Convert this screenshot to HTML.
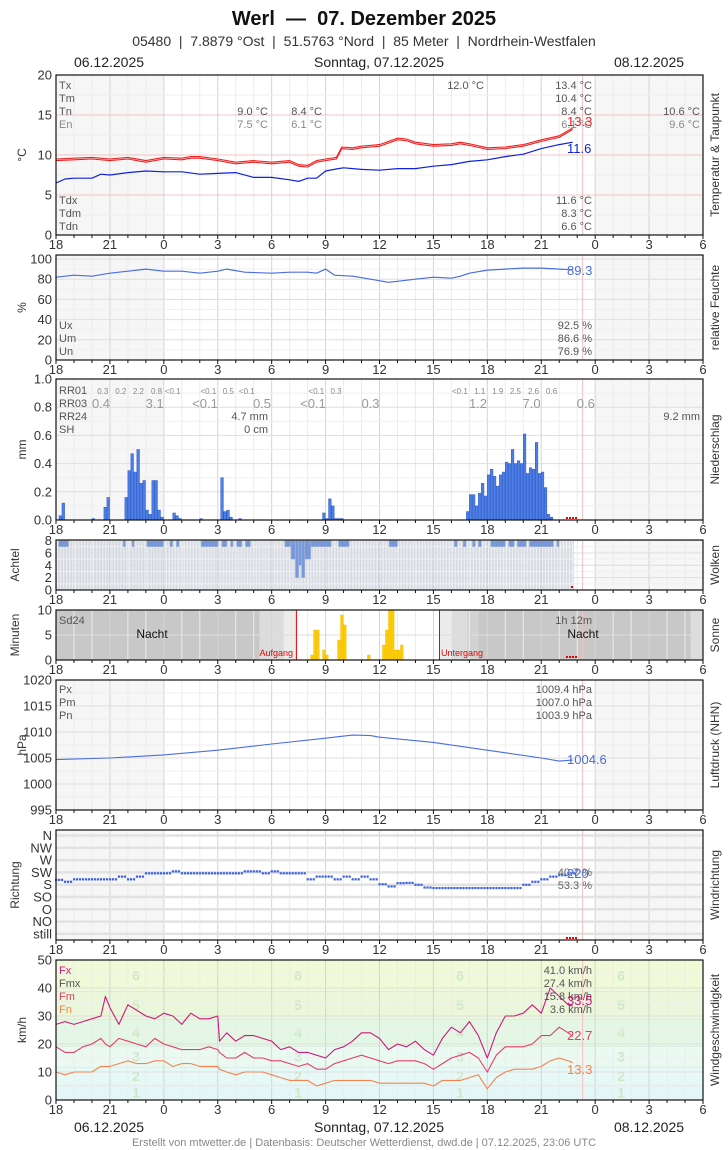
<!DOCTYPE html>
<html><head><meta charset="utf-8"><style>
html,body{margin:0;padding:0;background:#fff}
svg{display:block}
text{font-family:"Liberation Sans Narrow","Liberation Sans",sans-serif}
</style></head><body>
<svg id="c" width="728" height="1150" viewBox="0 0 728 1150" xmlns="http://www.w3.org/2000/svg"></svg>
<script>
// ---------- data ----------
const tempHours=[0,1,2,3,4,5,6,7,7.5,8,9,10,11,12,13,13.5,14,14.5,15,15.6,15.9,16.5,17,18,19,19.5,20,21,22,22.5,23,24,25,26,27,28,28.75];
const tempVals=[9.4,9.5,9.6,9.4,9.6,9.2,9.6,9.5,9.7,9.7,9.4,9.0,9.2,9.0,9.2,8.7,8.6,9.2,9.4,9.6,10.9,10.8,11.0,11.2,12.0,11.9,11.5,11.2,11.3,11.5,11.3,10.8,10.9,11.2,11.8,12.3,13.3];
const dewHours=[0,0.5,1,2,2.5,3,4,5,6,7,8,9,10,11,12,13,13.5,14,14.5,15,15.7,16,17,18,19,20,21,22,23,24,25,26,27,28,28.75];
const dewVals=[6.5,7.0,7.1,7.1,7.6,7.5,7.8,8.0,7.9,7.9,7.6,7.7,7.8,7.2,7.2,6.9,6.7,7.1,7.1,8.0,8.3,8.4,8.2,8.1,8.3,8.3,8.6,8.8,9.2,9.4,9.8,10.1,10.8,11.3,11.6];
const humHours=[0,1,2,3,4,5,6,7,8,9,9.5,10.5,12,13,14,14.5,15,15.5,16.5,17.5,18.5,19,20,21,22,22.5,23,24,25,26,27,28,28.75];
const humVals=[82,84,83,86,88,90,88,88,86,88,90,87,86,87,87,86,90,84,83,80,77,78,80,82,81,83,86,89,90,91,91,90,89.3];
const rainBins=[1,2,12,16,17,23,24,25,26,27,28,29,30,31,32,33,34,35,39,40,41,48,55,56,57,58,61,89,90,91,92,93,94,95,137,138,139,140,141,142,143,144,145,146,147,148,149,150,151,152,153,154,155,156,157,158,159,160,161,162,163,164,165];
const rainVals=[0.03,0.12,0.01,0.09,0.16,0.16,0.35,0.47,0.34,0.50,0.26,0.28,0.07,0.04,0.28,0.28,0.07,0.02,0.05,0.03,0.01,0.01,0.30,0.06,0.07,0.02,0.01,0.05,0.01,0.15,0.10,0.01,0.01,0.01,0.06,0.18,0.18,0.10,0.19,0.26,0.17,0.32,0.36,0.31,0.24,0.32,0.34,0.41,0.40,0.50,0.40,0.42,0.40,0.61,0.33,0.37,0.36,0.55,0.33,0.34,0.23,0.04,0.02];
const cloudStart=[0.15,3.74,4.23,5.05,6.34,6.70,8.07,9.23,9.72,10.05,10.54,12.73,13.07,13.32,13.51,13.66,13.84,14.18,15.72,18.53,22.16,22.65,23.17,23.5,24.18,25.18,25.67,26.34,27.86];
const cloudEnd=[0.70,3.87,4.36,5.98,6.49,6.86,9.02,9.51,9.85,10.34,10.82,13.07,13.32,13.51,13.66,13.84,14.18,15.31,16.31,19.0,22.32,22.81,23.32,23.66,25.0,25.49,26.16,27.68,27.99];
const cloudLevel=[7,7,7,7,7,7,7,7,7,7,7,7,5,2,4,2,5,7,7,7,7,7,7,7,7,7,7,7,7];
const sunBins=[85,86,87,89,90,94,95,96,104,109,110,111,112,113,114,115];
const sunVals=[1,6,6,2,1,4,9,7,1,3,6,10,10,2,2,3];
const pressHours=[0,3,6,9,12,15,16.5,17.5,18,21,24,27,28,28.75];
const pressVals=[1004.7,1005.0,1005.6,1006.5,1007.7,1008.8,1009.4,1009.3,1009.0,1008.0,1006.5,1005.0,1004.4,1004.6];
const dirHours=[0,0.5,1,1.5,2,2.5,3,3.5,4,4.5,5,5.5,6,6.5,7,7.5,8,8.5,9,9.5,10,10.5,11,11.5,12,12.5,13,13.5,14,14.5,15,15.5,16,16.5,17,17.5,18,18.5,19,19.5,20,20.5,21,21.5,22,22.5,23,23.5,24,24.5,25,25.5,26,26.5,27,27.5,28,28.5];
const dirVals=[198,191,200,200,200,200,200,210,200,210,222,222,222,229,222,222,222,222,222,222,222,229,229,222,229,222,222,222,200,210,210,200,210,200,210,200,182,174,186,187,180,170,168,168,168,168,168,168,168,168,168,168,180,191,200,210,215,222];
const dirLabels=["still","NO","O","SO","S","SW","W","NW","N"];
const windHours=[0,0.5,1,1.5,2,2.5,2.75,3,3.5,4,4.5,5,5.5,6,6.5,7,7.5,8,8.5,9,9.1,9.5,10,10.5,11,11.5,12,12.5,13,13.5,14,14.5,15,15.5,16,16.5,17,17.5,18,18.5,19,19.5,20,20.5,21,21.5,22,22.5,23,23.5,24,24.5,25,25.5,26,26.5,27,27.5,28,28.5,28.75];
const fxVals=[27,28,27,28,29,30,37,33,27,34,32,30,29,31,30,27,31,29,29,30,21,24,21,23,23,22,21,18,19,17,17,16,15,18,19,21,24,24,22,18,20,19,21,18,16,22,26,24,28,23,15,24,30,30,31,34,31,40,37,34,33.5];
const fmVals=[19,17,17,19,20,22,20,19,22,21,20,19,22,20,19,18,18,18,19,18,17,15,15,17,15,15,14,14,13,12,13,11,11,13,14,15,16,15,14,13,14,14,14,13,11,13,15,16,17,15,10,16,19,19,19,20,23,23,26,24,22.7];
const fnVals=[10,9,10,10,10,12,12,12,13,14,13,13,14,14,12,13,13,12,12,12,11,10,9,10,10,10,9,8,7,7,7,5,6,7,7,7,7,7,6,6,6,6,6,6,5,7,7,7,8,9,4,8,10,11,11,11,12,14,15,14,13.3];
const hourTickLabels=["18","21","0","3","6","9","12","15","18","21","0","3","6"];

// ---------- helpers ----------
const NS="http://www.w3.org/2000/svg";
const svg=document.getElementById('c');
function el(tag,attrs,parent){const e=document.createElementNS(NS,tag);for(const k in attrs)e.setAttribute(k,attrs[k]);(parent||svg).appendChild(e);return e;}
function txt(s,x,y,size,fill,anchor,parent,weight){const t=el('text',{x:x,y:y,'font-size':size,fill:fill,'text-anchor':anchor||'start','font-weight':weight||'normal'},parent);t.textContent=s;return t;}
const X0=56,X1=703,PH=(X1-X0)/36;
function xs(h){return X0+h*PH;}
function yScale(p,v){return p.bot-(v-p.min)/(p.max-p.min)*(p.bot-p.top);}

const panels={
 temp:{top:75,bot:235,min:0,max:20,ticks:[0,5,10,15,20],unit:"°C",right:"Temperatur & Taupunkt"},
 hum:{top:255,bot:360,min:0,max:104,ticks:[0,20,40,60,80,100],unit:"%",right:"relative Feuchte"},
 rain:{top:379,bot:520,min:0,max:1,ticks:[0,0.2,0.4,0.6,0.8,1.0],unit:"mm",right:"Niederschlag",fmt:1},
 cloud:{top:540,bot:590,min:0,max:8.1,ticks:[0,2,4,6,8],unit:"Achtel",right:"Wolken"},
 sun:{top:610,bot:660,min:0,max:10,ticks:[0,5,10],unit:"Minuten",right:"Sonne",nobg:1},
 press:{top:680,bot:810,min:995,max:1020,ticks:[995,1000,1005,1010,1015,1020],unit:"hPa",right:"Luftdruck (NHN)"},
 dir:{top:830,bot:940,min:-0.5,max:8.45,ticks:[0,1,2,3,4,5,6,7,8],unit:"Richtung",right:"Windrichtung",labels:dirLabels},
 wind:{top:960,bot:1100,min:0,max:50,ticks:[0,10,20,30,40,50],unit:"km/h",right:"Windgeschwindigkeit",nobg:1}
};

// header
const hdr=el('g',{});


let t=txt("Werl\u00a0 —\u00a0 07. Dezember 2025",364,25,20,"#111","middle",hdr,"bold");


t=txt("05480\u00a0 |\u00a0 7.8879 °Ost\u00a0 |\u00a0 51.5763 °Nord\u00a0 |\u00a0 85 Meter\u00a0 |\u00a0 Nordrhein-Westfalen",364,46,14,"#333","middle",hdr);


function dateRow(y,nm){
 const g=el('g',{});
 
 
 txt("06.12.2025",109,y,14,"#222","middle",g);
 txt("Sonntag, 07.12.2025",379,y,14,"#222","middle",g);
 txt("08.12.2025",649,y,14,"#222","middle",g);
}
dateRow(67,'top-date-row');
dateRow(1132,'bottom-date-row');
t=txt("Erstellt von mtwetter.de | Datenbasis: Deutscher Wetterdienst, dwd.de | 07.12.2025, 23:06 UTC",364,1146,11,"#888","middle");



function drawPanel(key){
 const p=panels[key];
 const g=el('g',{});
 
 
 p.g=g;
 if(!p.nobg){
  let r=el('rect',{x:xs(0),y:p.top,width:xs(6)-xs(0),height:p.bot-p.top,fill:'#f6f6f6'},g);
  
  
  r=el('rect',{x:xs(30),y:p.top,width:xs(36)-xs(30),height:p.bot-p.top,fill:'#f6f6f6'},g);
  
  
 }
 return g;
}
function drawGrid(key){
 const p=panels[key],g=p.g;
 const grid=el('g',{},g);
 
 
 for(let h=1;h<36;h++){
  el('line',{x1:xs(h),x2:xs(h),y1:p.top,y2:p.bot,stroke:h%3==0?'#d4d4d4':'#ececec','stroke-width':1},grid);
 }
 p.ticks.forEach((v,i)=>{
  const y=yScale(p,v);
  let col='#dedede';
  if(key==='temp'&&v>0&&v<20)col='#f2c4c4';
  if(key==='dir')col='#e2e2e2';
  el('line',{x1:X0,x2:X1,y1:y,y2:y,stroke:col,'stroke-width':key==='dir'?2.5:1},grid);
  if(i<p.ticks.length-1&&key!=='dir'&&key!=='sun'){
   const ym=yScale(p,(v+p.ticks[i+1])/2);
   el('line',{x1:X0,x2:X1,y1:ym,y2:ym,stroke:'#efefef','stroke-width':1},grid);
  }
 });
 el('line',{x1:xs(29.3),x2:xs(29.3),y1:p.top,y2:p.bot,stroke:'#f4c0c0','stroke-width':1},grid);
}
function drawAxes(key){
 const p=panels[key],g=p.g;
 const ax=el('g',{},g);
 
 
 el('rect',{x:X0,y:p.top,width:X1-X0,height:p.bot-p.top,fill:'none',stroke:'#111','stroke-width':1.2},ax);
 const yt=el('g',{},ax);
 
 
 p.ticks.forEach((v,i)=>{
  const s=p.labels?p.labels[i]:(p.fmt?v.toFixed(1):String(v));
  txt(s,52,yScale(p,v)+4.5,13,'#333','end',yt);
 });
 const xt=el('g',{},ax);
 
 
 for(let h=0;h<=36;h++){
  el('line',{x1:xs(h),x2:xs(h),y1:p.bot,y2:p.bot+(h%3==0?4:3),stroke:'#111','stroke-width':1},xt);
 }
 hourTickLabels.forEach((s,i)=>txt(s,xs(i*3),p.bot+14,13,'#333','middle',xt));
 let u=txt(p.unit,0,0,12,'#333','middle',ax);
 u.setAttribute('transform',`translate(${key==='dir'||key==='sun'||key==='cloud'?19:26},${(p.top+p.bot)/2}) rotate(-90)`);
 
 
 let r=txt(p.right,0,0,12,'#333','middle',ax);
 r.setAttribute('transform',`translate(719,${(p.top+p.bot)/2}) rotate(-90)`);
 
 
}
function line(key,hours,vals,color,w,dy,nm){
 const p=panels[key];
 const d=hours.map((h,i)=>(i?'L':'M')+xs(h).toFixed(1)+','+(yScale(p,vals[i])+(dy||0)).toFixed(1)).join('');
 const l=el('path',{d:d,fill:'none',stroke:color,'stroke-width':w,'stroke-linejoin':'round'},p.g);
 
 
 return l;
}
function legend(key,rows,nm){
 const g=el('g',{},panels[key].g);
 
 
 rows.forEach(r=>txt(r[0],r[1],r[2],r[3]||11,r[4]||'#555',r[5]||'start',g));
}
function redDots(key,y){
 const g=el('g',{},panels[key].g);
 
 
 for(let i=0;i<4;i++)el('rect',{x:566+i*3,y:y,width:2,height:2,fill:'#e00'},g);
}

// ---- Temperature ----
drawPanel('temp');drawGrid('temp');
line('temp',tempHours,tempVals,'#f02020',1.1,-0.8,'temperature-max-line');
line('temp',tempHours,tempVals,'#f02020',1.1,0.8,'temperature-min-line');
line('temp',dewHours,dewVals,'#1020e0',1.2,0,'dewpoint-line');
legend('temp',[["Tx",59,89],["Tm",59,102],["Tn",59,115],["En",59,128,11,'#888'],
 ["12.0 °C",484,89,11,'#555','end'],["13.4 °C",592,89,11,'#555','end'],["10.4 °C",592,102,11,'#555','end'],["8.4 °C",592,115,11,'#555','end'],["6.1 °C",592,128,11,'#888','end'],
 ["9.0 °C",268,115,11,'#555','end'],["7.5 °C",268,128,11,'#888','end'],["8.4 °C",322,115,11,'#555','end'],["6.1 °C",322,128,11,'#888','end'],
 ["10.6 °C",700,115,11,'#555','end'],["9.6 °C",700,128,11,'#888','end'],
 ["Tdx",59,204],["Tdm",59,217],["Tdn",59,230],["11.6 °C",592,204,11,'#555','end'],["8.3 °C",592,217,11,'#555','end'],["6.6 °C",592,230,11,'#555','end'],
 ["13.3",567,126,13,'#f02020'],["11.6",567,153,13,'#1020e0']],'temp-legend');
drawAxes('temp');

// ---- Humidity ----
drawPanel('hum');drawGrid('hum');
line('hum',humHours,humVals,'#4a6ee0',1.2,0,'humidity-line');
legend('hum',[["Ux",59,329],["Um",59,342],["Un",59,355],["92.5 %",592,329,11,'#555','end'],["86.6 %",592,342,11,'#555','end'],["76.9 %",592,355,11,'#555','end'],["89.3",567,275,13,'#4a6ee0']],'humidity-legend');
drawAxes('hum');

// ---- Rain ----
drawPanel('rain');drawGrid('rain');
{const p=panels.rain;const g=el('g',{},p.g);
 
 
 const bw=PH/6;
 rainBins.forEach((b,i)=>{const y=yScale(p,rainVals[i]);
  const r=el('rect',{x:xs(b/6),y:y,width:bw-0.4,height:p.bot-y,fill:'#4d7fe8',stroke:'#2a55c0','stroke-width':0.5},g);
  
  });}
legend('rain',[["RR01",59,394],["RR03",59,407],["RR24",59,420],["SH",59,433],
 ["0.3",102.8,394,8,'#888','middle'],["0.2",120.8,394,8,'#888','middle'],["2.2",138.4,394,8,'#888','middle'],["0.8",156.5,394,8,'#888','middle'],["<0.1",172.7,394,8,'#888','middle'],
 ["<0.1",208.4,394,8,'#888','middle'],["0.5",228.3,394,8,'#888','middle'],["<0.1",246.8,394,8,'#888','middle'],["<0.1",316.3,394,8,'#888','middle'],["0.3",336,394,8,'#888','middle'],
 ["<0.1",459.9,394,8,'#888','middle'],["1.1",479.8,394,8,'#888','middle'],["1.9",497.8,394,8,'#888','middle'],["2.5",515.4,394,8,'#888','middle'],["2.6",533.5,394,8,'#888','middle'],["0.6",551.6,394,8,'#888','middle'],
 ["0.4",101,408,13,'#999','middle'],["3.1",154.7,408,13,'#999','middle'],["<0.1",205,408,13,'#999','middle'],["0.5",262,408,13,'#999','middle'],["<0.1",313,408,13,'#999','middle'],["0.3",370.5,408,13,'#999','middle'],["1.2",478,408,13,'#999','middle'],["7.0",531.6,408,13,'#999','middle'],["0.6",585.8,408,13,'#999','middle'],
 ["4.7 mm",268,420,11,'#555','end'],["0 cm",268,433,11,'#555','end'],["9.2 mm",700,420,11,'#555','end']],'rain-legend');
redDots('rain',517);
drawAxes('rain');

// ---- Clouds ----
{const p=panels.cloud;const g=drawPanel('cloud');
 const gb=el('g',{},g);
 
 
 for(let k=0;k<173;k++){el('rect',{x:xs(k/6)+0.4,y:yScale(p,8),width:PH/6-1.2,height:p.bot-yScale(p,8),fill:'#eef0f4',stroke:'#b8c0cc','stroke-width':0.5},gb);}
 drawGrid('cloud');
 const g2=el('g',{},g);
 
 
 cloudStart.forEach((s,i)=>{const y0=yScale(p,8),y1=yScale(p,cloudLevel[i]);
  const r=el('rect',{x:xs(s),y:y0,width:xs(cloudEnd[i])-xs(s),height:y1-y0,fill:'#7898dc',stroke:'#b0bccc','stroke-width':0.5},g2);
  
  });
 el('rect',{x:571,y:586,width:2,height:2,fill:'#e00'},g);
 drawAxes('cloud');}

// ---- Sun ----
{const p=panels.sun;const g=drawPanel('sun');
 const bands=[[56,259.8,'#c8c8c8'],[259.8,283.9,'#dcdcdc'],[283.9,296.4,'#ececec'],[296.4,439.5,'#ffffff'],[439.5,450.6,'#ececec'],[450.6,466.8,'#dcdcdc'],[466.8,478.4,'#d2d2d2'],[478.4,690.5,'#c8c8c8'],[690.5,703,'#dcdcdc']];
 const bg=el('g',{},g);
 
 
 bands.forEach(b=>el('rect',{x:b[0],y:p.top,width:b[1]-b[0],height:p.bot-p.top,fill:b[2]},bg));
 drawGrid('sun');
 const sb=el('g',{},g);
 
 
 sunBins.forEach((b,i)=>{const y=yScale(p,sunVals[i]);
  const r=el('rect',{x:xs(b/6),y:y,width:PH/6-0.4,height:p.bot-y,fill:'#ffcc00',stroke:'#e8b800','stroke-width':0.4},sb);
  
  });
 let l=el('line',{x1:296.4,x2:296.4,y1:p.top,y2:p.bot,stroke:'#e00','stroke-width':1},g);
 
 
 l=el('line',{x1:439.5,x2:439.5,y1:p.top,y2:p.bot,stroke:'#e00','stroke-width':1},g);
 
 
 legend('sun',[["Sd24",59,624,11,'#555'],["Nacht",152,638,12,'#111','middle'],["Nacht",583,638,12,'#111','middle'],["1h 12m",592,624,11,'#555','end'],["Aufgang",293,656,9,'#e00','end'],["Untergang",441,656,9,'#e00']],'sun-legend');
 redDots('sun',656);
 drawAxes('sun');}

// ---- Pressure ----
drawPanel('press');drawGrid('press');
line('press',pressHours,pressVals,'#4a6ee0',1.1,0,'pressure-line');
legend('press',[["Px",59,693],["Pm",59,706],["Pn",59,719],["1009.4 hPa",592,693,11,'#555','end'],["1007.0 hPa",592,706,11,'#555','end'],["1003.9 hPa",592,719,11,'#555','end'],["1004.6",567,764,13,'#4a6ee0']],'pressure-legend');
drawAxes('press');

// ---- Direction ----
drawPanel('dir');drawGrid('dir');
{const p=panels.dir;const g=el('g',{},p.g);
 
 
 dirHours.forEach((h,i)=>{
  for(let k=0;k<3;k++){const c=el('rect',{x:xs(h+k/6)-1,y:yScale(p,dirVals[i]/45)-1,width:2.2,height:2.2,fill:'#3a5fe0'},g);
   
   }});}
legend('dir',[["40.7 %",592,876,11,'#666','end'],["53.3 %",592,889,11,'#666','end'],["220",567,878,13,'#4a6ee0']],'direction-legend');
redDots('dir',937);
drawAxes('dir');

// ---- Wind ----
{const p=panels.wind;const g=drawPanel('wind');
 const bft=[[0,5.4,'#e4f6f8','1'],[5.4,11.8,'#e6f9f6','2'],[11.8,19.3,'#eafaf2','3'],[19.3,28.9,'#e4f7e4','4'],[28.9,38.9,'#eaf7da','5'],[38.9,50,'#f0f9d8','6']];
 const bg=el('g',{},g);
 
 
 bft.forEach(b=>{el('rect',{x:X0,y:yScale(p,b[1]),width:X1-X0,height:yScale(p,b[0])-yScale(p,b[1]),fill:b[2]},bg);
  el('line',{x1:X0,x2:X1,y1:yScale(p,b[1]),y2:yScale(p,b[1]),stroke:'#cfe6cc','stroke-width':1},bg);
  [136,298,460,621].forEach(x=>txt(b[3],x,yScale(p,(b[0]+b[1])/2)+5,14,'#cfe8c8','middle',bg,'bold'));});
 drawGrid('wind');
 line('wind',windHours,fxVals,'#cc1a7a',1.1,0,'wind-gust-line');
 line('wind',windHours,fmVals,'#e0406a',1.1,0,'wind-mean-line');
 line('wind',windHours,fnVals,'#f5834f',1.1,0,'wind-min-line');
 legend('wind',[["Fx",59,974,11,'#cc1a7a'],["Fmx",59,987,11,'#555'],["Fm",59,1000,11,'#e0406a'],["Fn",59,1013,11,'#f5834f'],
  ["41.0 km/h",592,974,11,'#555','end'],["27.4 km/h",592,987,11,'#555','end'],["15.8 km/h",592,1000,11,'#555','end'],["3.6 km/h",592,1013,11,'#555','end'],
  ["33.5",567,1005,13,'#cc1a7a'],["22.7",567,1040,13,'#e0406a'],["13.3",567,1074,13,'#f5834f']],'wind-legend');
 drawAxes('wind');}
</script>
</body></html>
